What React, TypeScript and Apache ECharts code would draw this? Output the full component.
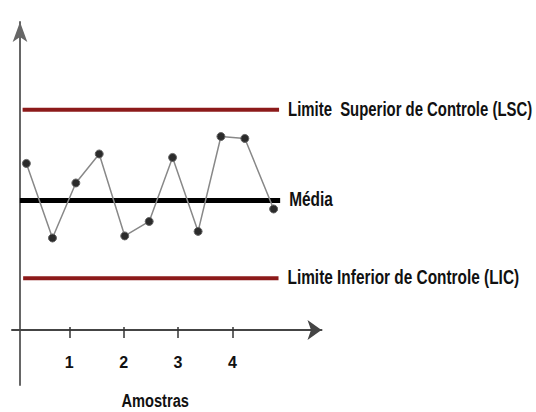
import React, { useEffect, useRef } from "react";
import * as echarts from "echarts";

// Sample positions (x in axis units where tick n = sample n) and measured values
const sampleX = [0.21, 0.69, 1.12, 1.55, 2.02, 2.47, 2.9, 3.37, 3.79, 4.23, 4.76];
const sampleY = [12.86, 7.1, 11.35, 13.59, 7.26, 8.38, 13.32, 7.61, 14.94, 14.79, 9.34];

const limitNames = ["Limite  Superior de Controle (LSC)", "Média", "Limite Inferior de Controle (LIC)"];
const limitValues = [17, 10, 4];
const limitStart = [0.14, 0.09, 0.15];
const limitEnd = [4.86, 4.88, 4.85];
const limitColors = ["#8c1a1a", "#000000", "#8c1a1a"];
const limitWidths = [4, 5, 4];
const limitLabelScale = [0.745, 0.77, 0.77];

const tickValues = [1, 2, 3, 4];
const tickLabels = ["1", "2", "3", "4"];
const xAxisName = "Amostras";
const xAxisNameAt = 2.58;

const FONT = "'Liberation Sans', Arial, sans-serif";

export default function App() {
  const ref = useRef<HTMLDivElement>(null);
  useEffect(() => {
    if (!ref.current) return;
    const chart = echarts.init(ref.current, undefined, { renderer: "svg" });
    const xMin = -0.055;
    const xMax = 5.641;
    const limitSeries = limitNames.map((name, i) => ({
      type: "line",
      name,
      data: [
        [limitStart[i], limitValues[i]],
        [limitEnd[i], limitValues[i]],
      ],
      symbol: "none",
      silent: true,
      z: 2,
      lineStyle: { color: limitColors[i], width: limitWidths[i] },
    }));
    chart.setOption({
      animation: false,
      backgroundColor: "#ffffff",
      grid: { left: 12, right: 214.5, top: 22, bottom: 27, containLabel: false, outerBoundsMode: "none" },
      xAxis: [
        {
          type: "value",
          position: "bottom",
          offset: -55,
          min: xMin,
          max: xMax,
          interval: 1,
          axisLine: {
            onZero: false,
            symbol: ["none", "arrow"],
            symbolSize: [15, 14],
            lineStyle: { color: "#444", width: 2 },
          },
          axisTick: {
            show: true,
            length: 8,
            lineStyle: { color: "#333", width: 1.5 },
            customValues: tickValues,
          },
          axisLabel: {
            show: true,
            customValues: tickValues,
            formatter: (v: number) => tickLabels[tickValues.indexOf(Math.round(v))] ?? "",
            margin: 24,
            color: "#111",
            fontFamily: FONT,
            fontWeight: "bold",
            fontSize: 16,
          },
          splitLine: { show: false },
        },
        {
          type: "value",
          position: "bottom",
          offset: -55,
          min: xMin,
          max: xMax,
          interval: 1,
          axisLine: { show: false, onZero: false },
          axisTick: {
            show: true,
            inside: true,
            length: 3,
            lineStyle: { color: "#333", width: 1.5 },
            customValues: tickValues,
          },
          axisLabel: { show: false },
          splitLine: { show: false },
        },
      ],
      yAxis: {
        type: "value",
        min: -4.25,
        max: 23.78,
        offset: -8,
        axisLine: {
          show: true,
          onZero: false,
          symbol: ["none", "arrow"],
          symbolSize: [11, 20],
          lineStyle: { color: "#666", width: 2 },
        },
        axisTick: { show: false },
        axisLabel: { show: false },
        splitLine: { show: false },
      },
      series: [
        ...limitSeries,
        {
          type: "line",
          name: "Amostras",
          data: sampleX.map((x, i) => [x, sampleY[i]]),
          symbol: "circle",
          symbolSize: 8,
          z: 3,
          itemStyle: { color: "#2b2b2b", borderColor: "#666", borderWidth: 1 },
          lineStyle: { color: "#888", width: 1.5 },
        },
      ],
    });

    // Condensed bold labels placed through the chart's own scales
    const texts: any[] = limitNames.map((name, i) => {
      const p = chart.convertToPixel({ gridIndex: 0 }, [limitEnd[i], limitValues[i]]) as number[];
      return {
        type: "text",
        x: p[0] + 9,
        y: p[1] - 1,
        scaleX: limitLabelScale[i],
        style: {
          text: name,
          fill: "#111",
          font: `bold 20px ${FONT}`,
          textVerticalAlign: "middle",
          textAlign: "left",
        },
      };
    });
    const a = chart.convertToPixel({ gridIndex: 0 }, [xAxisNameAt, 0]) as number[];
    texts.push({
      type: "text",
      x: a[0],
      y: a[1] + 71,
      scaleX: 0.77,
      style: {
        text: xAxisName,
        fill: "#111",
        font: `bold 19px ${FONT}`,
        textVerticalAlign: "middle",
        textAlign: "center",
      },
    });
    chart.setOption({ graphic: texts });
    return () => chart.dispose();
  }, []);
  return <div ref={ref} style={{ width: 536, height: 412, position: "fixed", left: 0, top: 0 }} />;
}
